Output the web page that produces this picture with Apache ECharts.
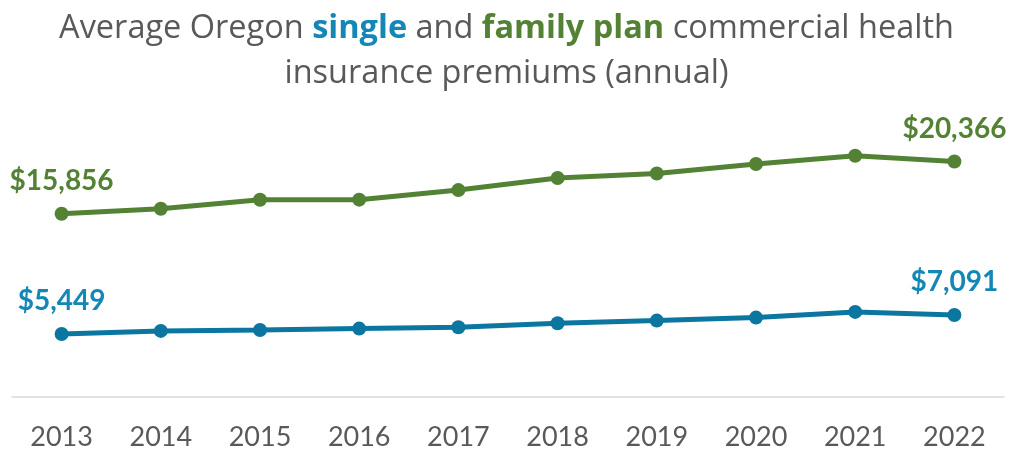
<!DOCTYPE html>
<html>
<head>
<meta charset="utf-8">
<script src="https://cdn.jsdelivr.net/npm/echarts@6/dist/echarts.min.js"></script>
<style>
html,body{margin:0;padding:0;background:#fff;}
#chart{width:1013px;height:452px;}
</style>
</head>
<body>
<div id="chart"></div>
<script>
var years = ['2013','2014','2015','2016','2017','2018','2019','2020','2021','2022'];
var familyPremiums = [15856, 16280, 17060, 17070, 17900, 18940, 19340, 20150, 20870, 20366];
var singlePremiums = [5449, 5716, 5800, 5915, 6036, 6382, 6608, 6867, 7360, 7091];
var labelledIndexes = [0, 9];

var FONT = 'Lato, "Open Sans", sans-serif';
var TITLE_FONT = '"Open Sans", Lato, sans-serif';
var GREEN = '#548235';
var BLUE_LINE = '#0b76a0';
var BLUE_TEXT = '#1487b7';
var GREY = '#595959';

function fmt(v){ return '$' + v.toLocaleString('en-US'); }

function labelFor(color){
  return {
    show: true,
    position: 'top',
    distance: 12,
    fontFamily: FONT,
    fontWeight: 'bold',
    fontSize: 28,
    color: color,
    formatter: function(p){ return labelledIndexes.indexOf(p.dataIndex) >= 0 ? fmt(p.value) : ''; }
  };
}

var TS = 32.5;
var chart = echarts.init(document.getElementById('chart'), null, {renderer:'canvas'});
chart.setOption({
  animation: false,
  backgroundColor: '#fff',
  title: {
    left: 'center',
    top: 1,
    text: '{n|Average Oregon }{s|single}{n| and }{f|family plan}{n| commercial health}\n{n|insurance premiums (annual)}',
    textStyle: {
      fontFamily: TITLE_FONT,
      fontSize: TS,
      fontWeight: 'normal',
      color: GREY,
      lineHeight: 45,
      align: 'center',
      rich: {
        n: {fontFamily: TITLE_FONT, fontSize: TS, fontWeight: 'normal', color: GREY, lineHeight: 45},
        s: {fontFamily: TITLE_FONT, fontSize: TS, color: BLUE_TEXT, fontWeight: 'bold', lineHeight: 45},
        f: {fontFamily: TITLE_FONT, fontSize: TS, color: GREEN, fontWeight: 'bold', lineHeight: 45}
      }
    }
  },
  grid: {left: 12, right: 9, top: 108, bottom: 55, containLabel: false},
  xAxis: {
    type: 'category',
    data: years,
    boundaryGap: true,
    axisLine: {show: true, lineStyle: {color: '#d9d9d9', width: 1.5}},
    axisTick: {show: false},
    axisLabel: {fontFamily: FONT, fontSize: 27, color: GREY, margin: 27}
  },
  yAxis: {
    type: 'value',
    min: 0,
    max: 25000,
    show: false,
    splitLine: {show: false}
  },
  series: [
    {
      name: 'Family plan',
      type: 'line',
      data: familyPremiums,
      symbol: 'circle',
      symbolSize: 14,
      lineStyle: {color: GREEN, width: 5},
      itemStyle: {color: GREEN},
      label: labelFor(GREEN)
    },
    {
      name: 'Single',
      type: 'line',
      data: singlePremiums,
      symbol: 'circle',
      symbolSize: 14,
      lineStyle: {color: BLUE_LINE, width: 5},
      itemStyle: {color: BLUE_LINE},
      label: labelFor(BLUE_TEXT)
    }
  ]
});
</script>
</body>
</html>
